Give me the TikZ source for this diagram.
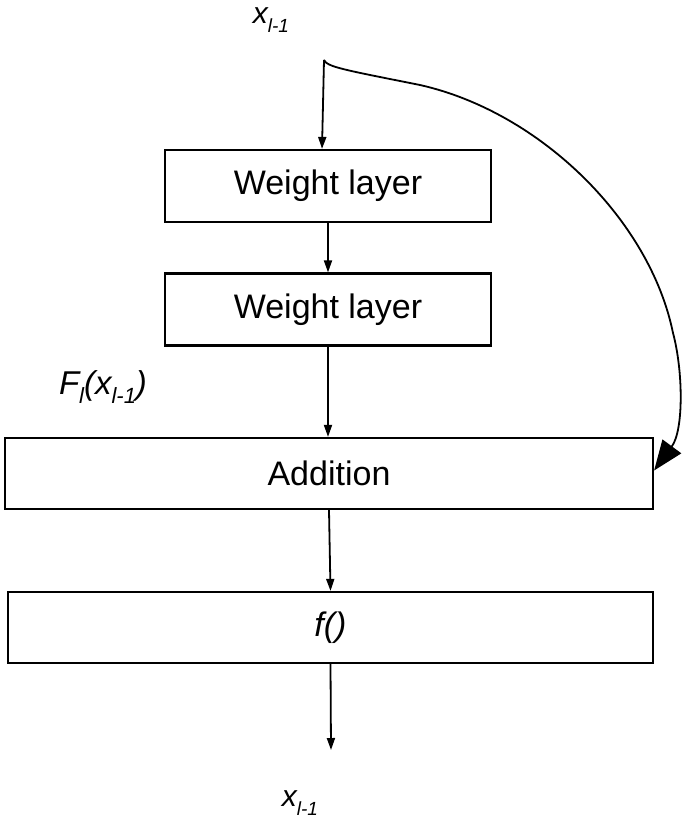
\documentclass[tikz,border=0pt]{standalone}
\usepackage{fontspec}
\setmainfont{Liberation Sans}
\usetikzlibrary{arrows.meta}
\begin{document}
\begin{tikzpicture}[x=1pt,y=-1pt,
  box/.style={draw,line width=2.2pt,minimum height=72pt,inner sep=0pt,font=\fontsize{34}{40}\selectfont},
  arr/.style={line width=1.8pt,-{Triangle[length=12pt,width=8pt]}},
  skip/.style={line width=1.8pt,-{Triangle[length=30pt,width=23pt]}},
  lbl/.style={inner sep=0pt}]
\useasboundingbox (0,0) rectangle (685,820);
\node[box,minimum width=326pt] (w1) at (328,186) {Weight layer};
\node[box,minimum width=326pt] (w2) at (328,309.5) {Weight layer};
\node[box,minimum width=648pt,minimum height=71pt] (add) at (329,473.5) {Addition};
\node[box,minimum width=645pt,minimum height=71pt] (f) at (330.5,627.5) {\itshape f()};
\coordinate (s) at (324,60);
\coordinate (e) at (331,750);
\node[lbl] (xt) at (271,20) {\itshape\fontsize{30}{30}\selectfont x\raisebox{-0.3em}{\fontsize{19}{19}\selectfont l-1}};
\node[lbl] (xb) at (300,803) {\itshape\fontsize{30}{30}\selectfont x\raisebox{-0.3em}{\fontsize{19}{19}\selectfont l-1}};
\node[lbl] (F) at (103,387) {\itshape\fontsize{33}{33}\selectfont F\raisebox{-0.3em}{\fontsize{22}{22}\selectfont l}(x\raisebox{-0.3em}{\fontsize{22}{22}\selectfont l-1})};
\draw[arr] (s) -- ([xshift=-6pt]w1.north);
\draw[arr] (w1.south) -- (w2.north);
\draw[arr] (w2.south) -- (add.north -| w2.south);
\draw[arr] (add.south) -- (f.north);
\draw[arr] (f.south) -- (e);
\draw[skip] (s) .. controls (327,67) and (345,70) .. (420,85)
  .. controls (540,112) and (650,220) .. (673,333)
  .. controls (683,370) and (684,430) .. ([yshift=3pt]add.east);
\end{tikzpicture}
\end{document}
